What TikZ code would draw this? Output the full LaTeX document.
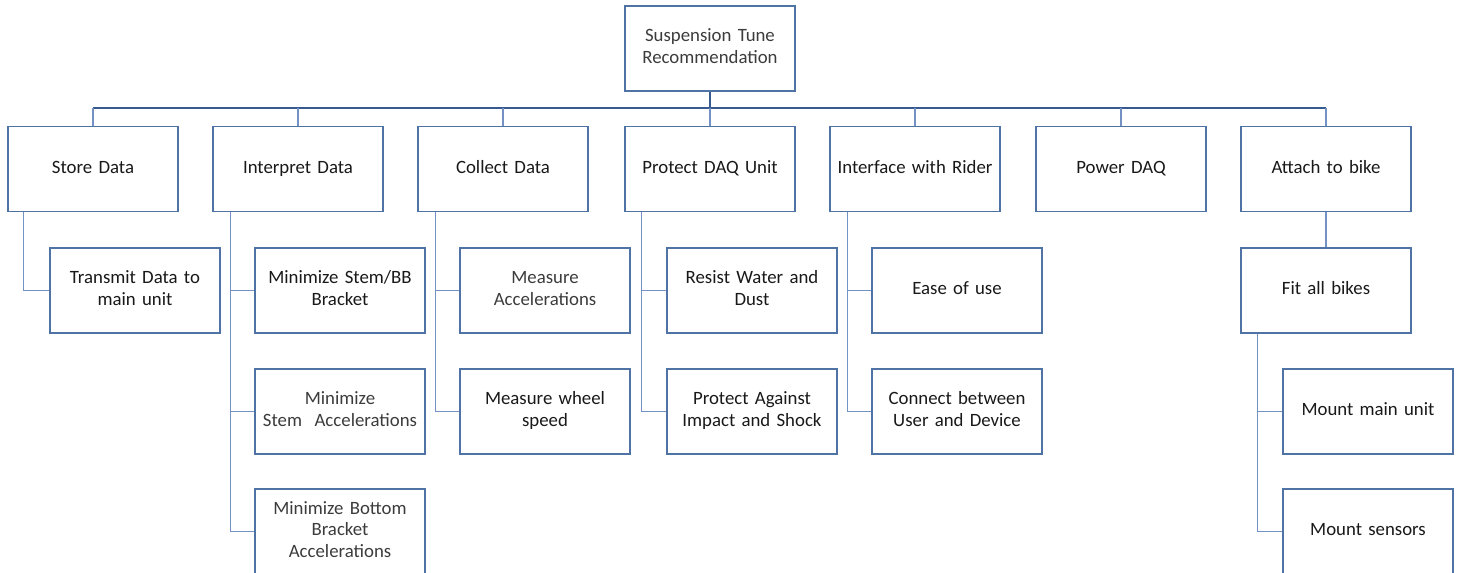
\documentclass[tikz,border=0pt]{standalone}
\usepackage{fontspec}
\setmainfont{Carlito}
\definecolor{boxc}{RGB}{80,115,165}
\definecolor{linec}{RGB}{115,145,195}
\definecolor{busc}{RGB}{55,90,145}
\definecolor{txt}{RGB}{25,25,25}
\definecolor{txtl}{RGB}{60,60,60}
\begin{document}
\begin{tikzpicture}[x=1pt,y=-1pt,
  box/.style={draw=boxc,line width=1.1pt,fill=white,minimum width=170pt,minimum height=85pt,
    inner sep=1pt,align=center,text width=166pt,font=\fontsize{18.8}{21.7}\selectfont,text=txt,
    execute at begin node={\strut},execute at end node={\strut}},
  light/.style={text=txtl},
  conn/.style={draw=linec,line width=1.1pt},
  bus/.style={draw=busc,line width=1.6pt}]
\clip (0,0) rectangle (1462,573);
\useasboundingbox (0,0) rectangle (1462,573);
% top
\node[box,light] (top) at (710,48.5) {Suspension Tune\\Recommendation};
% level 1
\node[box] (store) at (93,169) {Store Data};
\node[box] (interp) at (298,169) {Interpret Data};
\node[box] (collect) at (503,169) {Collect Data};
\node[box] (protect) at (710,169) {Protect DAQ Unit};
\node[box] (iface) at (915,169) {Interface with Rider};
\node[box] (power) at (1121,169) {Power DAQ};
\node[box] (attach) at (1326,169) {Attach to bike};
% level 2
\node[box] (transmit) at (135,290.5) {Transmit Data to\\main unit};
\node[box] (minbb) at (340,290.5) {Minimize Stem/BB\\Bracket};
\node[box,light] (minstem) at (340,411.5) {Minimize\\Stem~~Accelerations};
\node[box,light] (minbot) at (340,531.5) {Minimize Bottom\\Bracket\\Accelerations};
\node[box,light] (measacc) at (545,290.5) {Measure\\Accelerations};
\node[box] (measwheel) at (545,411.5) {Measure wheel\\speed};
\node[box] (resist) at (752,290.5) {Resist Water and\\Dust};
\node[box] (impact) at (752,411.5) {Protect Against\\Impact and Shock};
\node[box] (ease) at (957,290.5) {Ease of use};
\node[box] (connect) at (957,411.5) {Connect between\\User and Device};
\node[box] (fit) at (1326,290.5) {Fit all bikes};
\node[box] (mountmain) at (1368,411.5) {Mount main unit};
\node[box] (mountsens) at (1368,531.5) {Mount sensors};
% bus
\coordinate (busy) at (0,108);
\draw[bus] (top.south) -- (top.south |- busy);
\draw[bus] (store.north |- busy) -- (attach.north |- busy);
\foreach \n in {store,interp,collect,protect,iface,power,attach}
  \draw[conn] (\n.north |- busy) -- (\n.north);
% children connectors
\draw[conn] ([xshift=16pt]store.south west) |- (transmit.west);
\draw[conn] ([xshift=18pt]interp.south west) |- (minbot.west);
\draw[conn] ([xshift=18pt]interp.south west |- minbb.west) -- (minbb.west);
\draw[conn] ([xshift=18pt]interp.south west |- minstem.west) -- (minstem.west);
\draw[conn] ([xshift=18pt]collect.south west) |- (measwheel.west);
\draw[conn] ([xshift=18pt]collect.south west |- measacc.west) -- (measacc.west);
\draw[conn] ([xshift=17pt]protect.south west) |- (impact.west);
\draw[conn] ([xshift=17pt]protect.south west |- resist.west) -- (resist.west);
\draw[conn] ([xshift=18pt]iface.south west) |- (connect.west);
\draw[conn] ([xshift=18pt]iface.south west |- ease.west) -- (ease.west);
\draw[conn] (attach.south) -- (fit.north);
\draw[conn] ([xshift=17pt]fit.south west) |- (mountsens.west);
\draw[conn] ([xshift=17pt]fit.south west |- mountmain.west) -- (mountmain.west);
\end{tikzpicture}
\end{document}
